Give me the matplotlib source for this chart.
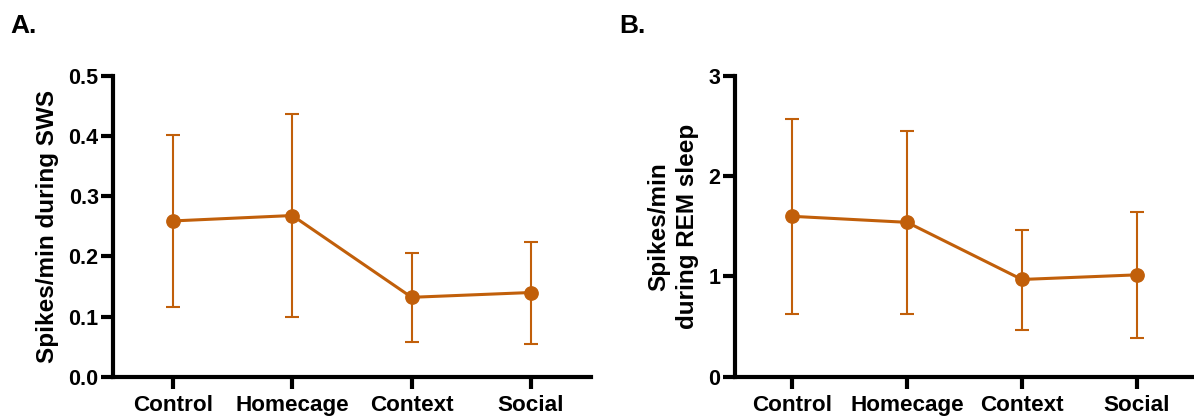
import matplotlib.pyplot as plt
import numpy as np

plt.rcParams['font.family'] = ['Liberation Sans', 'DejaVu Sans']
plt.rcParams['font.weight'] = 'bold'

groups = ['Control', 'Homecage', 'Context', 'Social']

sws_mean = [0.259, 0.268, 0.132, 0.140]
sws_low = [0.116, 0.100, 0.058, 0.054]
sws_high = [0.402, 0.437, 0.206, 0.224]

rem_mean = [1.60, 1.54, 0.97, 1.016]
rem_low = [0.63, 0.63, 0.464, 0.384]
rem_high = [2.57, 2.456, 1.467, 1.646]

col = '#C15F0A'

fig = plt.figure(figsize=(11.94, 4.18), dpi=100)
axA = fig.add_axes([0.0949, 0.0988, 0.3998, 0.7194])
axB = fig.add_axes([0.6156, 0.0988, 0.3844, 0.7194])


def panel(ax, mean, low, high, ylim, yticks, ylabel):
    x = np.arange(len(groups))
    mean = np.array(mean)
    err = [mean - np.array(low), np.array(high) - mean]
    ax.errorbar(x, mean, yerr=err, fmt='none', ecolor=col, elinewidth=1.5,
                capsize=4.8, capthick=1.5, zorder=2)
    ax.plot(x, mean, color=col, lw=2.2, marker='o', ms=9.6, zorder=3)
    ax.set_xlim(-0.5, 3.5)
    ax.set_ylim(*ylim)
    ax.set_yticks(yticks)
    ax.set_xticks(x)
    ax.set_xticklabels(groups, fontsize=16.2, fontweight='bold')
    for lab in ax.get_yticklabels():
        lab.set_fontsize(15.5)
        lab.set_fontweight('bold')
    ax.spines['top'].set_visible(False)
    ax.spines['right'].set_visible(False)
    for s in ['left', 'bottom']:
        ax.spines[s].set_linewidth(3)
    ax.tick_params(width=3, length=8.5, direction='out')
    ax.tick_params(axis='y', pad=2)
    ax.tick_params(axis='x', pad=4.5)
    ax.set_ylabel(ylabel, fontsize=17.5, fontweight='bold', labelpad=7,
                  linespacing=1.3)


panel(axA, sws_mean, sws_low, sws_high, (0, 0.5), [0, 0.1, 0.2, 0.3, 0.4, 0.5],
      'Spikes/min during SWS')
axA.set_yticklabels(['0.0', '0.1', '0.2', '0.3', '0.4', '0.5'])
panel(axB, rem_mean, rem_low, rem_high, (0, 3), [0, 1, 2, 3],
      'Spikes/min\nduring REM sleep')

fig.text(0.0084, 0.920, 'A.', fontsize=19, fontweight='bold', va='baseline')
fig.text(0.519, 0.920, 'B.', fontsize=19, fontweight='bold', va='baseline')

fig.savefig('out.png', dpi=100)
